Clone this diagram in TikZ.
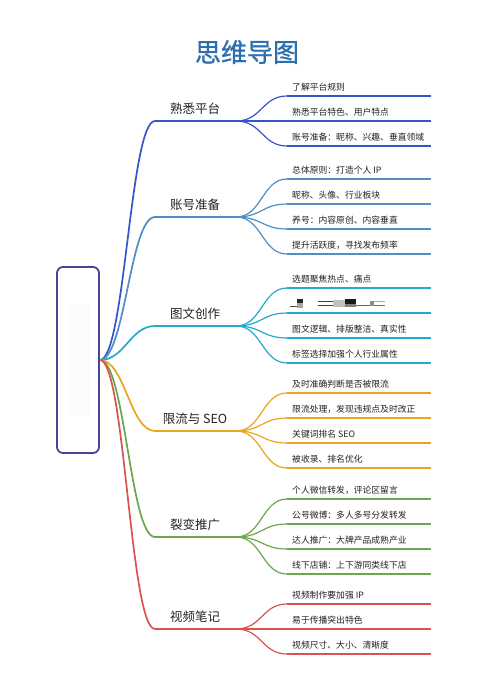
\documentclass[tikz,border=0pt]{standalone}
\usepackage{fontspec}
\newfontfamily\cjk{Noto Sans CJK SC}
\newfontfamily\cjkb[FakeBold=1]{Noto Sans CJK SC}
\definecolor{titleblue}{HTML}{2E6FB0}
\definecolor{boxpurple}{HTML}{4B4299}
\definecolor{cA}{HTML}{3556C8}
\definecolor{cB}{HTML}{4F8FC6}
\definecolor{cC}{HTML}{25A9CE}
\definecolor{cD}{HTML}{E8A522}
\definecolor{cE}{HTML}{6AA84F}
\definecolor{cF}{HTML}{D9534F}
\definecolor{txt}{HTML}{222222}
\newcommand\mmbranch[5]{%
  \coordinate (#1s) at (155,#2);
  \coordinate (#1e) at (236,#2);
  \draw[maincurve,#3] (root.east) .. controls (125,360) and (130,#2) .. (#1s);
  \draw[mainline,#3] (#1s) -- (#1e);
  \node[mainlabel] (#1l) at (195,#2-12) {#4};
  \foreach \k/\sy/\txt in {#5} {
    \coordinate (#1a\k) at (287,\sy);
    \coordinate (#1b\k) at (431,\sy);
    \draw[subcurve,#3] (#1e) .. controls (262,#2) and (262,\sy) .. (#1a\k);
    \draw[subline,#3] (#1a\k) -- (#1b\k);
    \node[sublabel] (#1t\k) at (292,\sy-9) {\txt};
  }
}
\begin{document}
\begin{tikzpicture}[x=1pt,y=-1pt,
  mainline/.style={line width=2.8pt},
  maincurve/.style={line width=1.7pt},
  subline/.style={line width=2.3pt},
  subcurve/.style={line width=1.2pt},
  mainlabel/.style={font=\cjk\fontsize{12.5}{14}\selectfont, text=txt, inner sep=0pt},
  sublabel/.style={font=\cjk\fontsize{8.8}{10}\selectfont, text=txt, anchor=west, inner sep=0pt}]
\useasboundingbox (0,0) rectangle (500,696);
\fill[white] (0,0) rectangle (500,696);

\node[font=\cjkb\fontsize{26}{28}\selectfont, text=titleblue, inner sep=0pt] (title) at (247,52) {思维导图};

\node[draw=boxpurple, line width=1.8pt, rounded corners=6pt, minimum width=42pt, minimum height=186pt, inner sep=0pt, fill=white] (root) at (78,360) {};
\fill[black!1.5] (68,305) rectangle (90,415);

\mmbranch{A}{121}{cA}{熟悉平台}{1/96/了解平台规则,2/121/熟悉平台特色、用户特点,3/146/账号准备：昵称、兴趣、垂直领域}
\mmbranch{B}{217}{cB}{账号准备}{1/179/总体原则：打造个人 IP,2/204/昵称、头像、行业板块,3/229/养号：内容原创、内容垂直,4/254/提升活跃度，寻找发布频率}
\mmbranch{C}{326}{cC}{图文创作}{1/288/选题聚焦热点、痛点,2/313/,3/338/图文逻辑、排版整洁、真实性,4/363/标签选择加强个人行业属性}
\mmbranch{D}{431}{cD}{限流与 SEO}{1/393/及时准确判断是否被限流,2/418/限流处理，发现违规点及时改正,3/443/关键词排名 SEO,4/468/被收录、排名优化}
\mmbranch{E}{537}{cE}{裂变推广}{1/499/个人微信转发，评论区留言,2/524/公号微博：多人多号分发转发,3/549/达人推广：大牌产品成熟产业,4/574/线下店铺：上下游同类线下店}
\mmbranch{F}{629}{cF}{视频笔记}{1/604/视频制作要加强 IP,2/629/易于传播突出特色,3/654/视频尺寸、大小、清晰度}

% garbled line in the picture
\fill[black!70] (290,305.5) rectangle (297,306.5);
\fill[black!85] (297,299) rectangle (303,303);
\fill[black!35] (297,303) rectangle (303,308);
\fill[black!75] (318,300.5) rectangle (333,301.5);
\fill[black!75] (318,304.5) rectangle (333,305.5);
\fill[black!25] (333,299.5) rectangle (345,307);
\fill[black!90] (345,299) rectangle (356,304);
\fill[black!50] (345,304) rectangle (356,307);
\fill[black!60] (356,304.5) rectangle (370,306);
\fill[black!45] (370,301) rectangle (374,306);
\fill[black!35] (374,300.5) rectangle (385,302);
\fill[black!55] (374,304.5) rectangle (385,306);
\end{tikzpicture}
\end{document}
